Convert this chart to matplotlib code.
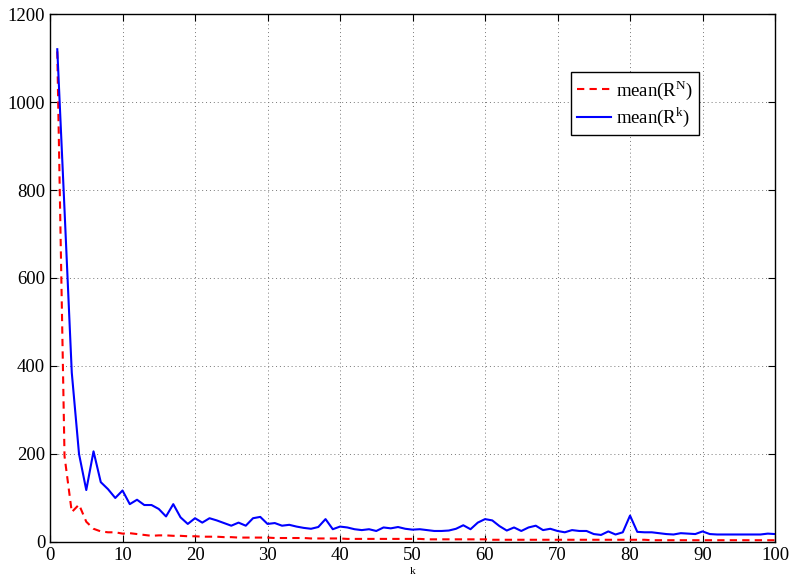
import numpy as np
import matplotlib
matplotlib.use('Agg')
import matplotlib.pyplot as plt

plt.rcParams['font.family'] = ['Liberation Serif', 'DejaVu Serif']
plt.rcParams['mathtext.fontset'] = 'custom'
plt.rcParams['mathtext.rm'] = 'Liberation Serif'

k = list(range(1, 101))

mean_RN = [1115, 195, 68, 85, 46, 30, 24, 22, 22, 19,
           20, 18, 16, 14, 15, 15, 14, 14, 13, 13,
           12, 12, 12, 11, 11, 10, 10, 10, 10, 10,
           9, 9, 9, 9, 9, 8, 8, 8, 8, 8,
           7, 7, 7, 7, 7, 7, 7, 7, 7, 7,
           7, 6, 6, 6, 6, 6, 6, 6, 6, 6,
           5, 5, 5, 5, 5, 5, 5, 5, 5, 5,
           5, 5, 5, 5, 5, 5, 5, 5, 5, 5,
           5, 5, 4, 4, 4, 4, 4, 4, 4, 4,
           4, 4, 4, 4, 4, 4, 4, 4, 4, 4]

mean_Rk = [1120, 755, 385, 200, 118, 206, 136, 120, 100, 117,
           86, 96, 84, 84, 75, 58, 86, 56, 41, 54,
           44, 54, 49, 43, 37, 44, 37, 54, 57, 41,
           43, 37, 39, 35, 32, 30, 34, 52, 29, 35,
           33, 29, 27, 29, 25, 33, 31, 34, 30, 28,
           29, 27, 25, 25, 26, 30, 38, 29, 44, 52,
           49, 36, 26, 33, 25, 33, 37, 27, 30, 25,
           22, 27, 25, 25, 18, 16, 24, 17, 22, 60,
           23, 22, 22, 20, 18, 17, 20, 19, 18, 24,
           18, 17, 17, 17, 17, 17, 17, 17, 19, 18]

fig = plt.figure(figsize=(7.89, 5.77), dpi=100)
ax = fig.add_axes([0.0634, 0.0607, 0.9189, 0.915])

ax.plot(k, mean_RN, color='red', lw=1.5, ls='--', dashes=(3.5, 2.5), label=r'mean(R$^{\mathrm{N}}$)')
ax.plot(k, mean_Rk, color='blue', lw=1.5, label=r'mean(R$^{\mathrm{k}}$)')

ax.set_xlim(0, 100)
ax.set_ylim(0, 1200)
ax.set_xticks(np.arange(0, 101, 10))
ax.set_yticks(np.arange(0, 1201, 200))
ax.grid(True, ls=(0, (1, 3)), color='#777777', lw=0.7)
ax.tick_params(direction='in', top=True, right=True, labelsize=13.5, length=5, width=0.8)
for s in ax.spines.values():
    s.set_linewidth(1.0)

ax.set_xlabel('k', fontsize=8, labelpad=2)

leg = ax.legend(loc='upper left', bbox_to_anchor=(0.719, 0.89), borderaxespad=0,
                fontsize=13.5, fancybox=False, framealpha=1, edgecolor='black',
                handlelength=1.8, handletextpad=0.3, borderpad=0.3, labelspacing=0.2)
leg.get_frame().set_linewidth(1.0)

fig.savefig('out.png', dpi=100)
